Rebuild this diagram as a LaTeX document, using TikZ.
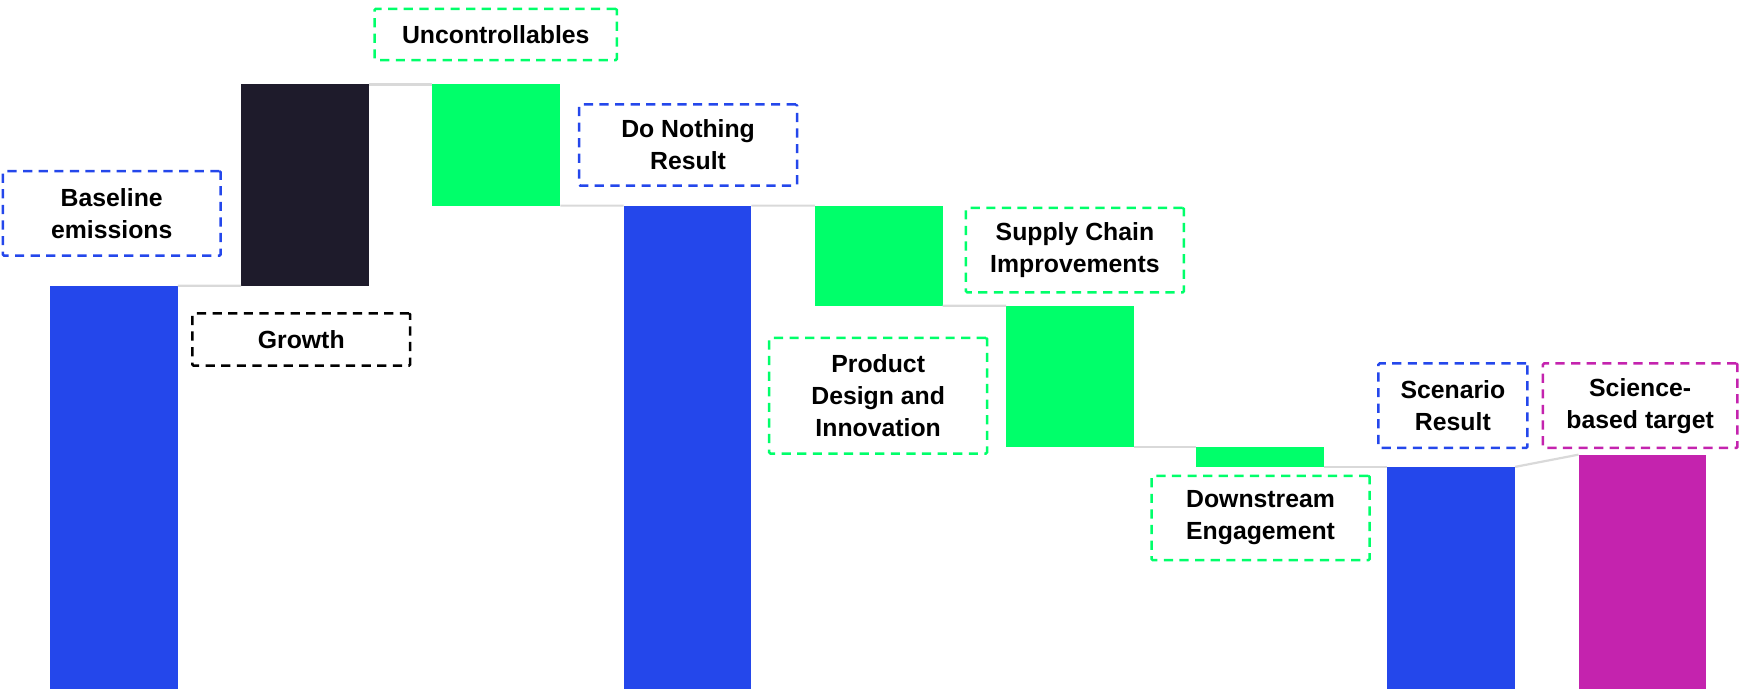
\documentclass[tikz,border=0pt]{standalone}
\usepackage{fontspec}
\setmainfont{Liberation Sans}
\definecolor{barblue}{HTML}{2447EB}
\definecolor{bardark}{HTML}{1E1B2B}
\definecolor{bargreen}{HTML}{00FF6A}
\definecolor{barpink}{HTML}{C423AE}
\definecolor{linkgray}{HTML}{D9D9D9}
\begin{document}
\begin{tikzpicture}[x=0.5558pt, y=0.5558pt,
    bar/.style={inner sep=0pt, outer sep=0pt, anchor=south west, minimum width=115*0.5558pt},
    link/.style={draw=linkgray, line width=1.1pt},
    tag/.style={draw, dash pattern=on 4.6pt off 3.2pt, line width=1.25pt, rounded corners=0.6pt, align=center,
      font=\fontsize{12.4}{16}\selectfont\bfseries, inner sep=0pt,
      minimum width=196*0.5558pt, minimum height=76*0.5558pt}]
  \useasboundingbox (0,0) rectangle (1568,623);
  % bars
  \node[bar, fill=barblue, minimum height=363*0.5558pt] (base) at (45,3) {};
  \node[bar, fill=bardark, minimum height=181*0.5558pt] (growth) at (217,366) {};
  \node[bar, fill=bargreen, minimum height=109*0.5558pt] (unc) at (389,438) {};
  \node[bar, fill=barblue, minimum height=435*0.5558pt] (nothing) at (561,3) {};
  \node[bar, fill=bargreen, minimum height=90*0.5558pt] (product) at (733,348) {};
  \node[bar, fill=bargreen, minimum height=127*0.5558pt] (supply) at (905,221) {};
  \node[bar, fill=bargreen, minimum height=18*0.5558pt] (down) at (1076,203) {};
  \node[bar, fill=barblue, minimum height=200*0.5558pt] (scenario) at (1248,3) {};
  \node[bar, fill=barpink, minimum height=211*0.5558pt] (target) at (1420,3) {};
  % links
  \draw[link] (base.north east) -- (growth.south west);
  \draw[link] (growth.north east) -- (unc.north west);
  \draw[link] (unc.south east) -- (nothing.north west);
  \draw[link] (nothing.north east) -- (product.north west);
  \draw[link] (product.south east) -- (supply.north west);
  \draw[link] (supply.south east) -- (down.north west);
  \draw[link] (down.south east) -- (scenario.north west);
  \draw[link] (scenario.north east) -- (target.north west);
  % labels
  \node[tag, draw=bargreen, minimum width=218*0.5558pt, minimum height=46*0.5558pt] (uncL) at (446,592) {Uncontrollables};
  \node[tag, draw=barblue] (baseL) at (100.5,431) {Baseline\\emissions};
  \node[tag, draw=black, minimum height=47*0.5558pt] (growthL) at (271,317.5) {Growth};
  \node[tag, draw=barblue, minimum height=73*0.5558pt] (nothingL) at (619,492.5) {Do Nothing\\Result};
  \node[tag, draw=bargreen] (supplyL) at (967,398) {Supply Chain\\Improvements};
  \node[tag, draw=bargreen, minimum height=104*0.5558pt] (productL) at (790,267) {Product\\Design and\\Innovation};
  \node[tag, draw=bargreen] (downL) at (1134,157) {Downstream\\Engagement};
  \node[tag, draw=barblue, minimum width=134*0.5558pt] (scenarioL) at (1307,258) {Scenario\\Result};
  \node[tag, draw=barpink, minimum width=175*0.5558pt] (targetL) at (1475.5,258) {Science-\\based target};
\end{tikzpicture}
\end{document}
